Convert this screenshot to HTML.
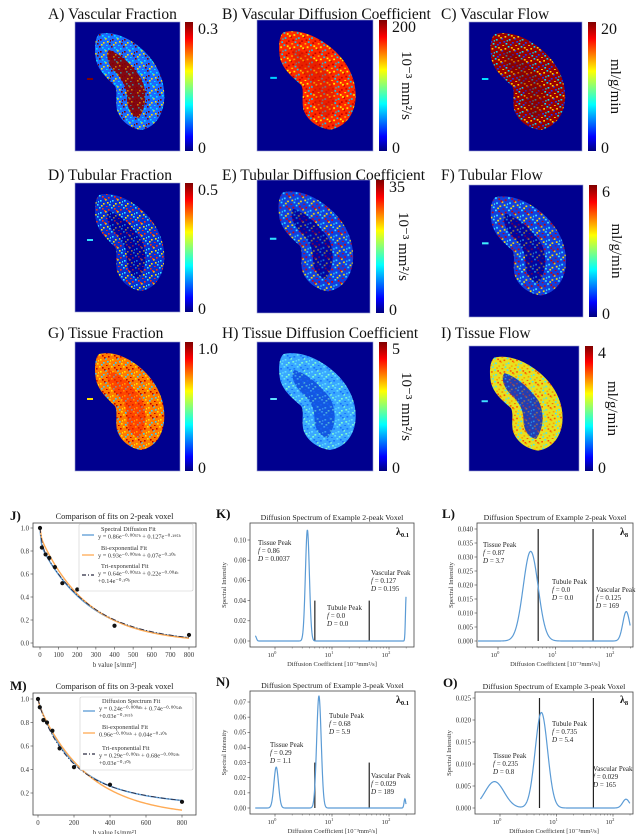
<!DOCTYPE html>
<html><head><meta charset="utf-8">
<style>
html,body{margin:0;padding:0;background:#fff;}
svg{display:block;font-family:"Liberation Serif",serif;}
</style></head>
<body>
<svg id="fig" width="640" height="834" viewBox="0 0 640 834" xmlns="http://www.w3.org/2000/svg">
<defs>
<linearGradient id="jet" x1="0" y1="1" x2="0" y2="0">
<stop offset="0" stop-color="#00007f"/><stop offset="0.11" stop-color="#0000ff"/>
<stop offset="0.36" stop-color="#00ffff"/><stop offset="0.62" stop-color="#ffff00"/>
<stop offset="0.87" stop-color="#ff0000"/><stop offset="1" stop-color="#7f0000"/>
</linearGradient>
</defs>
<g id="maps"></g>
<g id="plots"></g>
</svg>
<script>
// ---------- Plot data ----------
const jPointsB = [0,10,30,50,80,120,200,400,800];
const jPointsY = [1.0,0.83,0.77,0.74,0.66,0.52,0.465,0.15,0.07];
const mPointsB = [0,10,30,50,80,120,200,400,800];
const mPointsY = [1.0,0.93,0.82,0.80,0.73,0.58,0.42,0.27,0.125];
const jSpecAmp = [0.86,0.127], jSpecRate=[0.0037,0.195];
const jBiAmp = [0.93,0.07], jBiRate=[0.0039,0.2];
const jTriAmp = [0.64,0.22,0.14], jTriRate=[0.0035,0.004,0.1];
const mSpecAmp = [0.24,0.74,0.03], mSpecRate=[0.0008,0.0054,0.165];
const mBiAmp = [0.96,0.04], mBiRate=[0.0036,0.1];
const mTriAmp = [0.29,0.68,0.03], mTriRate=[0.001,0.0059,0.1];
const kPeakD=[0.45,3.7,200], kPeakH=[0.005,0.11,0.045], kPeakW=[0.02,0.035,0.012];
const lPeakD=[3.7,170], lPeakH=[0.032,0.0105], lPeakW=[0.13,0.06];
const nPeakD=[1.05,5.9,190], nPeakH=[0.027,0.074,0.006], nPeakW=[0.04,0.04,0.015];
const oPeakD=[0.8,5.4,170], oPeakH=[0.006,0.0217,0.002], oPeakW=[0.17,0.11,0.06];
const markerD=[5,45];
const kMarkerH=[0.04,0.04], lMarkerH=[0.04,0.04], nMarkerH=[0.03,0.03], oMarkerH=[0.025,0.025];
const jTicksX=[0,100,200,300,400,500,600,700,800], jTicksY=[0,0.2,0.4,0.6,0.8,1.0];
const mTicksX=[0,200,400,600,800], mTicksY=[0.2,0.4,0.6,0.8,1.0];
const kTicksY=[0,0.02,0.04,0.06,0.08,0.10], lTicksY=[0,0.005,0.01,0.015,0.02,0.025,0.03,0.035,0.04];
const nTicksY=[0,0.01,0.02,0.03,0.04,0.05,0.06,0.07], oTicksY=[0,0.005,0.01,0.015,0.02,0.025];
const logTicks=[0,1,2];

const NS="http://www.w3.org/2000/svg";
function mk(tag,attrs,parent,text){const e=document.createElementNS(NS,tag);for(const k in attrs)e.setAttribute(k,attrs[k]);if(text!==undefined)e.textContent=text;parent.appendChild(e);return e;}

// ---------- Maps ----------
const maps=document.getElementById('maps');
const defs=document.querySelector('defs');
const kidney="M24,12 C40,8 58,18 70,30 C84,44 91,62 89,80 C87,96 78,106 66,108 C54,106 45,98 42,88 C40,78 43,70 40,64 C34,58 24,50 21,38 C19,26 20,16 24,12 Z";
const hollow="M34,28 C46,32 58,44 66,56 C72,68 72,84 64,96 C56,94 52,86 52,76 C52,66 48,58 40,50 C33,43 30,32 34,28 Z";
const cells=[[0,0],[3,1],[6,4],[1,5],[9,2],[4,8],[10,9],[7,11],[2,10],[11,6],[5,3],[8,7]];
const panels=[
 {id:'a',lab:'A) Vascular Fraction',lx:48,ly:14,x:75,y:22,w:105,h:129,top:'0.3',unit:'',base:'#1a6cff',c:['#7f0000','#00e0ff','#ffe000'],core:'#8b0000'},
 {id:'b',lab:'B) Vascular Diffusion Coefficient',lx:222,ly:14,x:257,y:20,w:116,h:131,top:'200',unit:'10⁻³ mm²/s',base:'#ff2a00',c:['#00d0ff','#ffff00','#c00000'],core:'#e82000'},
 {id:'c',lab:'C) Vascular Flow',lx:441,ly:14,x:469,y:22,w:113,h:129,top:'20',unit:'ml/g/min',base:'#9a0000',c:['#00e0ff','#ffd000','#1040ff'],core:'#8b0000'},
 {id:'d',lab:'D) Tubular Fraction',lx:48,ly:175,x:75,y:183,w:105,h:129,top:'0.5',unit:'',base:'#0a30d0',c:['#30e0ff','#ff3000','#ffe000'],core:'#00009a'},
 {id:'e',lab:'E) Tubular Diffusion Coefficient',lx:222,ly:175,x:257,y:180,w:113,h:133,top:'35',unit:'10⁻³ mm²/s',base:'#1040e0',c:['#30e0ff','#e00000','#ffe000'],core:'#00009a'},
 {id:'f',lab:'F) Tubular Flow',lx:441,ly:175,x:469,y:185,w:114,h:132,top:'6',unit:'ml/g/min',base:'#1040e0',c:['#40f0ff','#d00000','#ffe000'],core:'#00009a'},
 {id:'g',lab:'G) Tissue Fraction',lx:48,ly:333,x:75,y:342,w:105,h:129,top:'1.0',unit:'',base:'#ff7a00',c:['#ffe000','#c00000','#30d0ff'],core:'#ff4000'},
 {id:'h',lab:'H) Tissue Diffusion Coefficient',lx:222,ly:333,x:257,y:342,w:116,h:129,top:'5',unit:'10⁻³ mm²/s',base:'#3aa8ff',c:['#60e0ff','#1870ff','#80ffd0'],core:'#1050e0'},
 {id:'i',lab:'I) Tissue Flow',lx:441,ly:333,x:469,y:346,w:110,h:125,top:'4',unit:'ml/g/min',base:'#e8e020',c:['#40e0ff','#ff5000','#ffa000'],core:'#1030c0'}
];
panels.forEach(p=>{
  const pat=mk('pattern',{id:'sp'+p.id,width:12,height:12,patternUnits:'userSpaceOnUse'},defs);
  cells.forEach((c,i)=>mk('rect',{x:c[0],y:c[1],width:1.6,height:1.6,fill:p.c[i%3]},pat));
  const g=mk('g',{},maps);
  
  
  const t=mk('text',{x:p.lx,y:p.ly+5,'font-size':15.5,fill:'#111'},g,p.lab);
  
  
  mk('rect',{x:p.x,y:p.y,width:p.w,height:p.h,fill:'#00008f',stroke:'#9aa0d0','stroke-width':0.6},g);
  const sx=p.w/105, sy=p.h/129;
  const kg=mk('g',{transform:`translate(${p.x},${p.y}) scale(${sx},${sy})`},g);
  mk('path',{d:kidney,fill:p.base},kg);
  mk('path',{d:kidney,fill:'url(#sp'+p.id+')'},kg);
  mk('path',{d:hollow,fill:p.core,opacity:0.92},kg);
  mk('path',{d:hollow,fill:'url(#sp'+p.id+')',opacity:0.5},kg);
  mk('rect',{x:12,y:56,width:6,height:2,fill:p.c[0]},kg);
  const cbx=p.x+p.w+(p.id==='a'||p.id==='d'||p.id==='g'?5:6);
  const cb=mk('rect',{x:cbx,y:p.y,width:8,height:p.h,fill:'url(#jet)'},g);
  
  
  mk('text',{x:cbx+13,y:p.y+12,'font-size':16,fill:'#111'},g,p.top);
  mk('text',{x:cbx+13,y:p.y+p.h+2,'font-size':16,fill:'#111'},g,'0');
  if(p.unit){const ux=cbx+23,uy=p.y+p.h/2;mk('text',{x:ux,y:uy,'font-size':15,fill:'#111','text-anchor':'middle',transform:`rotate(90 ${ux} ${uy})`},g,p.unit);}
});

// ---------- Plots ----------
const plots=document.getElementById('plots');
function lin(d0,d1,p0,p1){return v=>p0+(v-d0)/(d1-d0)*(p1-p0);}
function axesBox(g,b){mk('rect',{x:b.x0,y:b.y0,width:b.x1-b.x0,height:b.y1-b.y0,fill:'none',stroke:'#444','stroke-width':0.8},g);}
function fmt(v,dp){return v.toFixed(dp);}
function yTicks(g,b,ticks,ys,dp){ticks.forEach(v=>{const y=ys(v);mk('line',{x1:b.x0-2.5,x2:b.x0,y1:y,y2:y,stroke:'#444','stroke-width':0.6},g);mk('text',{x:b.x0-4,y:y+2.3,'font-size':6.8,'text-anchor':'end',fill:'#333'},g,fmt(v,dp));});}
function polyline(g,pts,attrs,name){const e=mk('polyline',Object.assign({points:pts.map(p=>p[0].toFixed(2)+','+p[1].toFixed(2)).join(' '),fill:'none'},attrs),g);return e;}
function expSum(A,R,b){let s=0;for(let i=0;i<A.length;i++)s+=A[i]*Math.exp(-R[i]*b);return s;}

function fitPlot(cfg){
  const g=mk('g',{},plots);
  
  
  const b=cfg.box, xs=lin(0,800,cfg.xp0,cfg.xp1), ys=lin(0,1,cfg.yp0,cfg.yp1);
  mk('text',{x:10,y:b.y0-3,'font-size':13,'font-weight':'bold',fill:'#111'},g,cfg.letter);
  mk('text',{x:(b.x0+b.x1)/2,y:b.y0-4,'font-size':8.3,'text-anchor':'middle',fill:'#222'},g,cfg.title);
  axesBox(g,b);
  cfg.tx.forEach(v=>{const x=xs(v);mk('line',{x1:x,x2:x,y1:b.y1,y2:b.y1+2.5,stroke:'#444','stroke-width':0.6},g);mk('text',{x:x,y:b.y1+10,'font-size':6.8,'text-anchor':'middle',fill:'#333'},g,String(v));});
  yTicks(g,b,cfg.ty,ys,1);
  mk('text',{x:(b.x0+b.x1)/2,y:b.y1+20,'font-size':6.8,'text-anchor':'middle',fill:'#333'},g,'b value [s/mm²]');
  const curves=[[cfg.spec,'#5b9bd5','','spectral-fit-line'],[cfg.bi,'#ffab55','','biexponential-fit-line'],[cfg.tri,'#2a2a40','5,2,1,2','triexponential-fit-line']];
  curves.forEach(c=>{const pts=[];for(let bv=0;bv<=800;bv+=8)pts.push([xs(bv),ys(expSum(c[0][0],c[0][1],bv))]);polyline(g,pts,{stroke:c[1],'stroke-width':c[2]?0.9:1.4,'stroke-dasharray':c[2]},c[3]);});
  cfg.pb.forEach((bv,i)=>{const d=mk('circle',{cx:xs(bv),cy:ys(cfg.py[i]),r:2.1,fill:'#111'},g);});
  const L=cfg.leg;
  const lg=mk('g',{},g);
  
  
  mk('rect',{x:L.x,y:L.y,width:L.w,height:L.h,fill:'#fff',stroke:'#ccc','stroke-width':0.6,rx:1.5},lg);
  L.items.forEach(it=>{
    mk('line',{x1:L.x+3,x2:L.x+15,y1:it.sy,y2:it.sy,stroke:it.col,'stroke-width':1.3,'stroke-dasharray':it.dash||''},lg);
    it.lines.forEach((ln,k)=>mk('text',{x:L.x+19+(k===0?3:0),y:it.ty+k*7.6,'font-size':6.3,fill:'#333'},lg,ln));
  });
}
fitPlot({name:'panel-j-fit-2peak',letter:'J)',title:'Comparison of fits on 2-peak voxel',box:{x0:33,x1:196,y0:523,y1:647},xp0:40,xp1:189,yp0:643,yp1:528,tx:jTicksX,ty:jTicksY,pb:jPointsB,py:jPointsY,
 spec:[jSpecAmp,jSpecRate],bi:[jBiAmp,jBiRate],tri:[jTriAmp,jTriRate],
 leg:{x:79,y:524,w:114,h:67,items:[
  {col:'#5b9bd5',sy:535,ty:531,lines:['Spectral Diffusion Fit','y = 0.86e⁻⁰·⁰⁰³⁷ᵇ + 0.127e⁻⁰·¹⁹⁵ᵇ']},
  {col:'#ffab55',sy:555,ty:550,lines:['Bi-exponential Fit','y = 0.93e⁻⁰·⁰⁰³⁹ᵇ + 0.07e⁻⁰·²⁰ᵇ']},
  {col:'#2a2a40',dash:'4,2,1,2',sy:575,ty:568,lines:['Tri-exponential Fit','y = 0.64e⁻⁰·⁰⁰³⁵ᵇ + 0.22e⁻⁰·⁰⁰⁴ᵇ','+0.14e⁻⁰·¹⁰ᵇ']}]}});
fitPlot({name:'panel-m-fit-3peak',letter:'M)',title:'Comparison of fits on 3-peak voxel',box:{x0:33,x1:196,y0:693,y1:815},xp0:38,xp1:182,yp0:816.5,yp1:699,tx:mTicksX,ty:mTicksY,pb:mPointsB,py:mPointsY,
 spec:[mSpecAmp,mSpecRate],bi:[mBiAmp,mBiRate],tri:[mTriAmp,mTriRate],
 leg:{x:80,y:697,w:113,h:73,items:[
  {col:'#5b9bd5',sy:711,ty:703,lines:['Diffusion Spectrum Fit','y = 0.24e⁻⁰·⁰⁰⁰⁸ᵇ + 0.74e⁻⁰·⁰⁰⁵⁴ᵇ','+0.03e⁻⁰·¹⁶⁵ᵇ']},
  {col:'#ffab55',sy:733,ty:729,lines:['Bi-exponential Fit','0.96e⁻⁰·⁰⁰³⁶ᵇ + 0.04e⁻⁰·¹⁰ᵇ']},
  {col:'#2a2a40',dash:'4,2,1,2',sy:754,ty:750,lines:['Tri-exponential Fit','y = 0.29e⁻⁰·⁰⁰¹ᵇ + 0.68e⁻⁰·⁰⁰⁵⁹ᵇ','+0.03e⁻⁰·¹⁰ᵇ']}]}});

function specPlot(cfg){
  const g=mk('g',{},plots);
  
  
  const b=cfg.box, ys=lin(0,cfg.ymax,cfg.yp0,cfg.yp1);
  const xs=d=>cfg.x0p+Math.log10(d)*cfg.dec;
  mk('text',{x:cfg.lx,y:b.y0-5,'font-size':13,'font-weight':'bold',fill:'#111'},g,cfg.letter);
  mk('text',{x:(b.x0+b.x1)/2,y:b.y0-3,'font-size':7.8,'text-anchor':'middle',fill:'#222'},g,cfg.title);
  axesBox(g,b);
  yTicks(g,b,cfg.ty,ys,cfg.dp);
  logTicks.forEach(e=>{const x=xs(Math.pow(10,e));mk('line',{x1:x,x2:x,y1:b.y1,y2:b.y1+2.5,stroke:'#444','stroke-width':0.6},g);
    const t=mk('text',{x:x-3,y:b.y1+10,'font-size':6.5,'text-anchor':'middle',fill:'#333'},g,'10');mk('tspan',{dy:-3,'font-size':4.5},t,String(e));
    for(let m=2;m<10;m++){const xm=xs(m*Math.pow(10,e));if(xm<b.x1)mk('line',{x1:xm,x2:xm,y1:b.y1,y2:b.y1+1.5,stroke:'#444','stroke-width':0.4},g);}});
  const yl=b.x0-24, ym=(b.y0+b.y1)/2;
  mk('text',{x:yl,y:ym,'font-size':6.5,'text-anchor':'middle',fill:'#333',transform:`rotate(-90 ${yl} ${ym})`},g,'Spectral Intensity');
  mk('text',{x:(b.x0+b.x1)/2,y:b.y1+19,'font-size':6.5,'text-anchor':'middle',fill:'#333'},g,'Diffusion Coefficient [10⁻³mm²/s]');
  markerD.forEach((d,i)=>{const l=mk('line',{x1:xs(d),x2:xs(d),y1:ys(0),y2:ys(cfg.mh[i]),stroke:'#222','stroke-width':1.2},g);});
  const pts=[];
  for(let lg=Math.log10(0.45);lg<=Math.log10(200)+1e-9;lg+=0.005){let v=0;for(let i=0;i<cfg.pd.length;i++){const z=(lg-Math.log10(cfg.pd[i]))/cfg.pw[i];v+=cfg.ph[i]*Math.exp(-0.5*z*z);}pts.push([cfg.x0p+lg*cfg.dec,ys(v)]);}
  polyline(g,pts,{stroke:'#5b9bd5','stroke-width':1.2},'spectrum-line');
  cfg.ann.forEach(a=>{a.lines.forEach((ln,k)=>{const t=mk('text',{x:a.x,y:a.y+k*8,'font-size':7,fill:'#222'},g);
    if(k===0){t.textContent=ln;}else{mk('tspan',{'font-style':'italic'},t,ln.slice(0,1));mk('tspan',{},t,ln.slice(1));}});});
  const lt=mk('text',{x:cfg.lam[0],y:cfg.lam[1],'font-size':10,'font-weight':'bold',fill:'#111'},g,'λ');mk('tspan',{dy:2,'font-size':6.5},lt,cfg.lam[2]);
}
specPlot({name:'panel-k-spectrum-2peak',letter:'K)',lx:216,title:'Diffusion Spectrum of Example 2-peak Voxel',box:{x0:250,x1:414,y0:523,y1:647},ymax:0.10,yp0:641,yp1:540,x0p:275,dec:57,ty:kTicksY,dp:2,
 pd:kPeakD,ph:kPeakH,pw:kPeakW,mh:kMarkerH,lam:[396,535,'0.1'],
 ann:[{x:258,y:545,lines:['Tissue Peak','f = 0.86','D = 0.0037']},{x:327,y:610,lines:['Tubule Peak','f = 0.0','D = 0.0']},{x:371,y:575,lines:['Vascular Peak','f = 0.127','D = 0.195']}]});
specPlot({name:'panel-l-spectrum-2peak',letter:'L)',lx:442,title:'Diffusion Spectrum of Example 2-peak Voxel',box:{x0:477,x1:633,y0:523,y1:647},ymax:0.04,yp0:641,yp1:529,x0p:498,dec:57.5,ty:lTicksY,dp:3,
 pd:lPeakD,ph:lPeakH,pw:lPeakW,mh:lMarkerH,lam:[620,535,'8'],
 ann:[{x:483,y:547,lines:['Tissue Peak','f = 0.87','D = 3.7']},{x:552,y:584,lines:['Tubule Peak','f = 0.0','D = 0.0']},{x:596,y:592,lines:['Vascular Peak','f = 0.125','D = 169']}]});
specPlot({name:'panel-n-spectrum-3peak',letter:'N)',lx:216,title:'Diffusion Spectrum of Example 3-peak Voxel',box:{x0:250,x1:415,y0:691,y1:814},ymax:0.07,yp0:808,yp1:702,x0p:275,dec:57,ty:nTicksY,dp:2,
 pd:nPeakD,ph:nPeakH,pw:nPeakW,mh:nMarkerH,lam:[396,703,'0.1'],
 ann:[{x:270,y:747,lines:['Tissue Peak','f = 0.29','D = 1.1']},{x:329,y:718,lines:['Tubule Peak','f = 0.68','D = 5.9']},{x:371,y:778,lines:['Vascular Peak','f = 0.029','D = 189']}]});
specPlot({name:'panel-o-spectrum-3peak',letter:'O)',lx:443,title:'Diffusion Spectrum of Example 3-peak Voxel',box:{x0:475,x1:633,y0:692,y1:814},ymax:0.025,yp0:808,yp1:698,x0p:500,dec:56.5,ty:oTicksY,dp:3,
 pd:oPeakD,ph:oPeakH,pw:oPeakW,mh:oMarkerH,lam:[620,703,'8'],
 ann:[{x:493,y:758,lines:['Tissue Peak','f = 0.235','D = 0.8']},{x:552,y:726,lines:['Tubule Peak','f = 0.735','D = 5.4']},{x:593,y:771,lines:['Vascular Peak','f = 0.029','D = 165']}]});
</script>
</body></html>
